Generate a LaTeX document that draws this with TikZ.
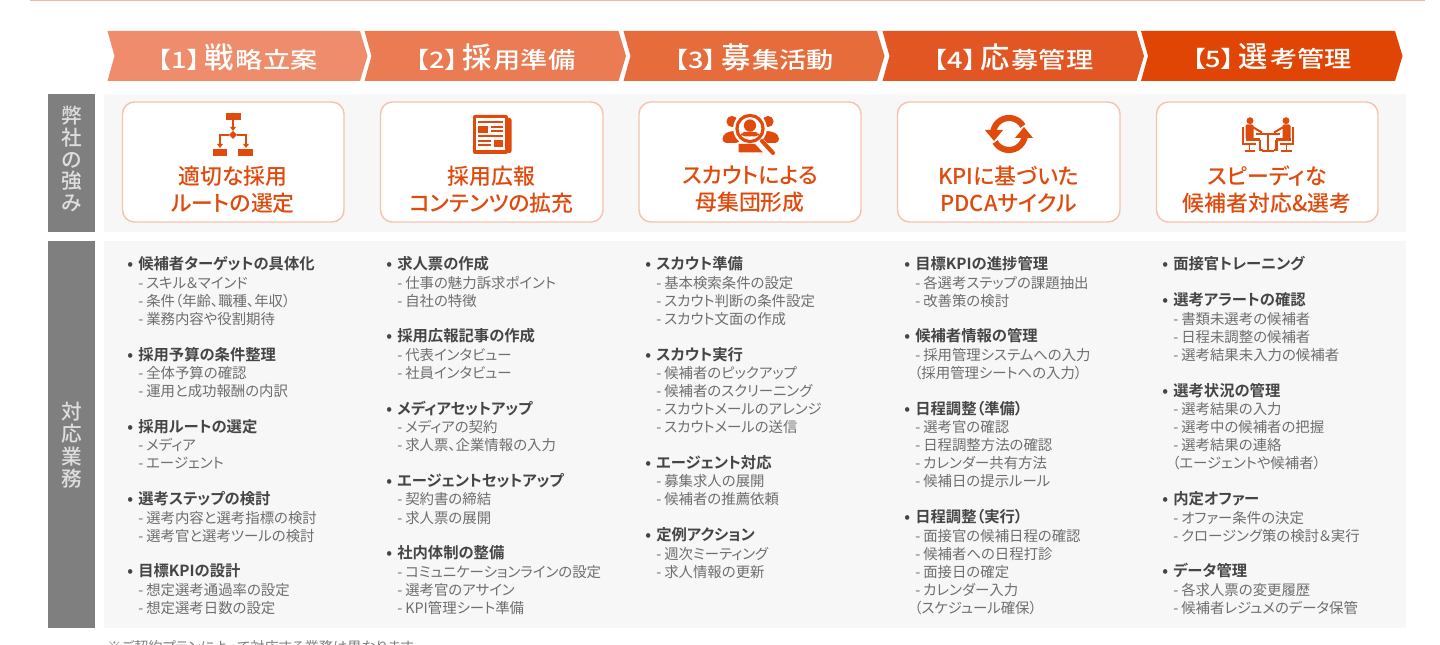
\documentclass[tikz,border=0pt]{standalone}
\usepackage{fontspec}
\setmainfont{Noto Sans CJK JP}[BoldFont={Noto Sans CJK JP Bold},RawFeature={+palt}]
\newfontfamily\jpmed{Noto Sans CJK JP Medium}[RawFeature={+palt}]
\newfontfamily\jpwide{Noto Sans CJK JP Medium}[RawFeature={+palt},FakeStretch=1.2]
\usetikzlibrary{calc}
\definecolor{ora}{HTML}{E04A0C}
\definecolor{cardline}{HTML}{F6C3AE}
\definecolor{panel}{HTML}{F7F7F7}
\definecolor{sidegrey}{HTML}{7F7F7F}
\definecolor{sidetxt}{HTML}{DEDEDE}
\definecolor{hdcol}{HTML}{454545}
\definecolor{sbcol}{HTML}{6E6E6E}
\definecolor{topline}{HTML}{F4B9A0}
\newcount\nidx
\tikzset{
  x=0.75pt,y=-0.75pt,
  hdtxt/.style={anchor=base west,inner sep=0pt,text=hdcol,font=\fontsize{11.5pt}{13pt}\selectfont\bfseries},
  sbtxt/.style={anchor=base west,inner sep=0pt,text=sbcol,font=\fontsize{10.8pt}{13pt}\selectfont},
  chevtxt/.style={inner sep=0pt,text=white,font=\fontsize{17pt}{20pt}\selectfont\jpwide},
  cardbox/.style={draw=cardline,line width=1.1pt,fill=white,rounded corners=9pt},
  cardtxt/.style={inner sep=0pt,align=center,text=ora,font=\fontsize{16.4pt}{20.2pt}\selectfont\jpmed},
  sidebox/.style={fill=sidegrey,draw=none},
  sidelbl/.style={inner sep=0pt,align=center,text=sidetxt},
  panelbox/.style={fill=panel,draw=none},
  icon/.style={fill=ora,draw=none},
  iconline/.style={draw=ora,line width=1pt},
  halo/.style={draw=white,line width=4.4pt},
}
\newcommand\HD[3]{\global\advance\nidx by 1
  \node[hdtxt] (t\the\nidx) at ({#1-11},{264+18.05*#2+5.8}) {\makebox[8.25pt][l]{•}#3};}
\newcommand\SB[3]{\global\advance\nidx by 1
  \node[sbtxt] (t\the\nidx) at ({#1},{264+18.05*#2+6.3}) {\makebox[6pt][l]{-}#3};}
\newcommand\PR[3]{\global\advance\nidx by 1
  \node[sbtxt] (t\the\nidx) at ({#1-1},{264+18.05*#2+6.3}) {#3};}
\newcommand\CH[5]{% left, shoulder, colour, name, text
  \fill[#3] (#1,31) -- (#2,31) -- ({#2+7.5},56) -- (#2,81) -- (#1,81) -- ({#1+7},56) -- cycle;
  \node[chevtxt] (#4) at ({(#1+#2)/2+4},57) {#5};}
\newcommand\BIG[1]{\kern3pt{\fontsize{22pt}{20pt}\selectfont\jpmed #1}\kern1.5pt}
\begin{document}
\begin{tikzpicture}
\useasboundingbox (0,0) rectangle (1440,645);
\fill[white] (0,0) rectangle (1440,645);
\draw[topline,line width=0.9pt] (30,0) -- (1425,0);
% chevrons
\definecolor{c1}{HTML}{EE8C6B}\definecolor{c2}{HTML}{EA7B52}\definecolor{c3}{HTML}{E66C3C}\definecolor{c4}{HTML}{E15622}\definecolor{c5}{HTML}{E04505}
\CH{107.5}{360}{c1}{h1}{【1】\BIG{戦}略立案}
\CH{364.5}{618.5}{c2}{h2}{【2】\BIG{採}用準備}
\CH{623.5}{877}{c3}{h3}{【3】\BIG{募}集活動}
\CH{882.5}{1136.5}{c4}{h4}{【4】\BIG{応}募管理}
\CH{1141}{1395}{c5}{h5}{【5】\BIG{選}考管理}
% panels
\fill[panelbox] (104,94) rectangle (1406,232);
\fill[panelbox] (104,241) rectangle (1406,628);
\fill[sidebox] (48,94) rectangle (95,232);
\fill[sidebox] (48,241) rectangle (95,628);
\node[sidelbl,font=\fontsize{15.5pt}{16.2pt}\selectfont\jpmed] (s1) at (71.5,159) {弊\\社\\の\\強\\み};
\node[sidelbl,font=\fontsize{15.5pt}{16.8pt}\selectfont\jpmed] (s2) at (71.5,445) {対\\応\\業\\務};
% cards
\draw[cardbox] (122.5,102) rectangle (344,222);
\draw[cardbox] (380.5,102) rectangle (603,222);
\draw[cardbox] (639,102) rectangle (861,222);
\draw[cardbox] (897.5,102) rectangle (1120,222);
\draw[cardbox] (1156.5,102) rectangle (1378,222);
\node[cardtxt] (c1t) at (233,189.5) {適切な採用\\ルートの選定};
\node[cardtxt] (c2t) at (491.5,189.5) {採用広報\\コンテンツの拡充};
\node[cardtxt] (c3t) at (750,189.5) {スカウトによる\\母集団形成};
\node[cardtxt] (c4t) at (1008.5,189.5) {KPIに基づいた\\PDCAサイクル};
\node[cardtxt] (c5t) at (1267,189.5) {スピーディな\\候補者対応\&選考};
% icon 1 flowchart
\fill[icon] (226,113) rectangle (241,120);
\fill[icon] (213,149) rectangle (227,156.5);
\fill[icon] (238,149) rectangle (253,156.5);
\fill[icon] (233,131) -- (237,135) -- (233,139) -- (229,135) -- cycle;
\draw[iconline] (233,120) -- (233,128);
\fill[icon] (230,127) -- (236,127) -- (233,131) -- cycle;
\draw[iconline] (229,135) -- (220,135) -- (220,144);
\draw[iconline] (237,135) -- (246,135) -- (246,144);
\fill[icon] (217,144) -- (223,144) -- (220,148) -- cycle;
\fill[icon] (243,144) -- (249,144) -- (246,148) -- cycle;
% icon 2 newspaper
\fill[icon,rounded corners=1.5pt] (473,115) rectangle (508,154);
\fill[icon,rounded corners=1.5pt] (507,118) rectangle (511.5,153);
\fill[white] (476,118.5) rectangle (505,150.5);
\fill[icon] (478,121) rectangle (503,123.5);
\fill[icon] (478,126) rectangle (488,133);
\fill[icon] (491,126) rectangle (503,128);
\fill[icon] (491,130.5) rectangle (503,132.5);
\fill[icon] (478,135.5) rectangle (503,137.5);
\fill[icon] (478,140) rectangle (491,142);
\fill[icon] (478,144.5) rectangle (491,146.5);
\fill[icon] (494,140) rectangle (503,147);
% icon 3 scout
\fill[icon] (732,121.5) circle[radius=4.2pt];
\fill[icon] (768,121.5) circle[radius=4.2pt];
\fill[icon,rounded corners=3pt] (722.5,143) -- (722.5,135) -- (730,131) -- (740,131) -- (740,143) -- cycle;
\fill[icon,rounded corners=3pt] (779,143) -- (779,135) -- (771,131) -- (760,131) -- (760,143) -- cycle;
\fill[white] (750,128.5) circle[radius=12.6pt];
\draw[draw=ora,line width=2.4pt] (750,128.5) circle[radius=9.8pt];
\fill[icon] (750,125.5) circle[radius=4.6pt];
\fill[icon,rounded corners=3pt] (741,136.5) -- (741,133) -- (746,131.5) -- (754,131.5) -- (759,133) -- (759,136.5) -- cycle;
\fill[icon] (738.5,144) -- (755,144) -- (763,152.5) -- (738.5,152.5) -- cycle;
\draw[halo,line width=3.6pt] (762,141) -- (773,153);
\draw[draw=ora,line width=3pt,line cap=round] (762,141) -- (773,153);
% icon 4 sync
\draw[draw=ora,line width=4.6pt] (1022.9,126) arc[start angle=30,end angle=170,radius=12pt];
\fill[icon] (985,130) -- (1003,130) -- (994,141) -- cycle;
\draw[draw=ora,line width=4.6pt] (995.1,142) arc[start angle=210,end angle=350,radius=12pt];
\fill[icon] (1033,138) -- (1015,138) -- (1024,127) -- cycle;
% icon 5 meeting
\foreach \s in {1,-1}{
\begin{scope}[shift={(1268,0)},xscale=\s]
\fill[icon] (-18,120.7) circle[radius=2.6pt];
\fill[icon,rounded corners=1pt] (-22.5,124.5) rectangle (-14.5,139);
\draw[draw=ora,line width=1.5pt] (-15.5,127) -- (-6,132.5);
\fill[icon] (-22.5,138) rectangle (-8,141.5);
\fill[icon] (-9.5,140) rectangle (-7,151);
\fill[icon] (-9.5,149.5) rectangle (-5.5,151.5);
\draw[draw=ora,line width=1.3pt] (-25,127) -- (-25,144) -- (-12,144);
\draw[iconline] (-18.5,144) -- (-18.5,150.5);
\draw[draw=ora,line width=1.2pt] (-23.5,151) -- (-13,151);
\end{scope}}
\fill[icon] (1256,133) rectangle (1280,135.5);
\fill[icon] (1267,135) rectangle (1269.2,151);
\fill[icon] (1262,150) rectangle (1274,151.8);
% column 1
\HD{138}{0}{候補者ターゲットの具体化}
\SB{138}{1}{スキル＆マインド}
\SB{138}{2}{条件（年齢、職種、年収）}
\SB{138}{3}{業務内容や役割期待}
\HD{138}{5}{採用予算の条件整理}
\SB{138}{6}{全体予算の確認}
\SB{138}{7}{運用と成功報酬の内訳}
\HD{138}{9}{採用ルートの選定}
\SB{138}{10}{メディア}
\SB{138}{11}{エージェント}
\HD{138}{13}{選考ステップの検討}
\SB{138}{14}{選考内容と選考指標の検討}
\SB{138}{15}{選考官と選考ツールの検討}
\HD{138}{17}{目標KPIの設計}
\SB{138}{18}{想定選考通過率の設定}
\SB{138}{19}{想定選考日数の設定}
% column 2
\HD{397}{0}{求人票の作成}
\SB{397}{1}{仕事の魅力訴求ポイント}
\SB{397}{2}{自社の特徴}
\HD{397}{4}{採用広報記事の作成}
\SB{397}{5}{代表インタビュー}
\SB{397}{6}{社員インタビュー}
\HD{397}{8}{メディアセットアップ}
\SB{397}{9}{メディアの契約}
\SB{397}{10}{求人票、企業情報の入力}
\HD{397}{12}{エージェントセットアップ}
\SB{397}{13}{契約書の締結}
\SB{397}{14}{求人票の展開}
\HD{397}{16}{社内体制の整備}
\SB{397}{17}{コミュニケーションラインの設定}
\SB{397}{18}{選考官のアサイン}
\SB{397}{19}{KPI管理シート準備}
% column 3
\HD{656}{0}{スカウト準備}
\SB{656}{1}{基本検索条件の設定}
\SB{656}{2}{スカウト判断の条件設定}
\SB{656}{3}{スカウト文面の作成}
\HD{656}{5}{スカウト実行}
\SB{656}{6}{候補者のピックアップ}
\SB{656}{7}{候補者のスクリーニング}
\SB{656}{8}{スカウトメールのアレンジ}
\SB{656}{9}{スカウトメールの送信}
\HD{656}{11}{エージェント対応}
\SB{656}{12}{募集求人の展開}
\SB{656}{13}{候補者の推薦依頼}
\HD{656}{15}{定例アクション}
\SB{656}{16}{週次ミーティング}
\SB{656}{17}{求人情報の更新}
% column 4
\HD{915}{0}{目標KPIの進捗管理}
\SB{915}{1}{各選考ステップの課題抽出}
\SB{915}{2}{改善策の検討}
\HD{915}{4}{候補者情報の管理}
\SB{915}{5}{採用管理システムへの入力}
\PR{915}{6}{（採用管理シートへの入力）}
\HD{915}{8}{日程調整（準備）}
\SB{915}{9}{選考官の確認}
\SB{915}{10}{日程調整方法の確認}
\SB{915}{11}{カレンダー共有方法}
\SB{915}{12}{候補日の提示ルール}
\HD{915}{14}{日程調整（実行）}
\SB{915}{15}{面接官の候補日程の確認}
\SB{915}{16}{候補者への日程打診}
\SB{915}{17}{面接日の確定}
\SB{915}{18}{カレンダー入力}
\PR{915}{19}{（スケジュール確保）}
% column 5
\HD{1173}{0}{面接官トレーニング}
\HD{1173}{2}{選考アラートの確認}
\SB{1173}{3}{書類未選考の候補者}
\SB{1173}{4}{日程未調整の候補者}
\SB{1173}{5}{選考結果未入力の候補者}
\HD{1173}{7}{選考状況の管理}
\SB{1173}{8}{選考結果の入力}
\SB{1173}{9}{選考中の候補者の把握}
\SB{1173}{10}{選考結果の連絡}
\PR{1173}{11}{（エージェントや候補者）}
\HD{1173}{13}{内定オファー}
\SB{1173}{14}{オファー条件の決定}
\SB{1173}{15}{クロージング策の検討＆実行}
\HD{1173}{17}{データ管理}
\SB{1173}{18}{各求人票の変更履歴}
\SB{1173}{19}{候補者レジュメのデータ保管}
% footnote
\node[sbtxt,font=\fontsize{10.7pt}{12pt}\selectfont,text=gray] (fn) at (107,652) {※ご契約プランによって対応する業務は異なります};
\end{tikzpicture}
\end{document}
